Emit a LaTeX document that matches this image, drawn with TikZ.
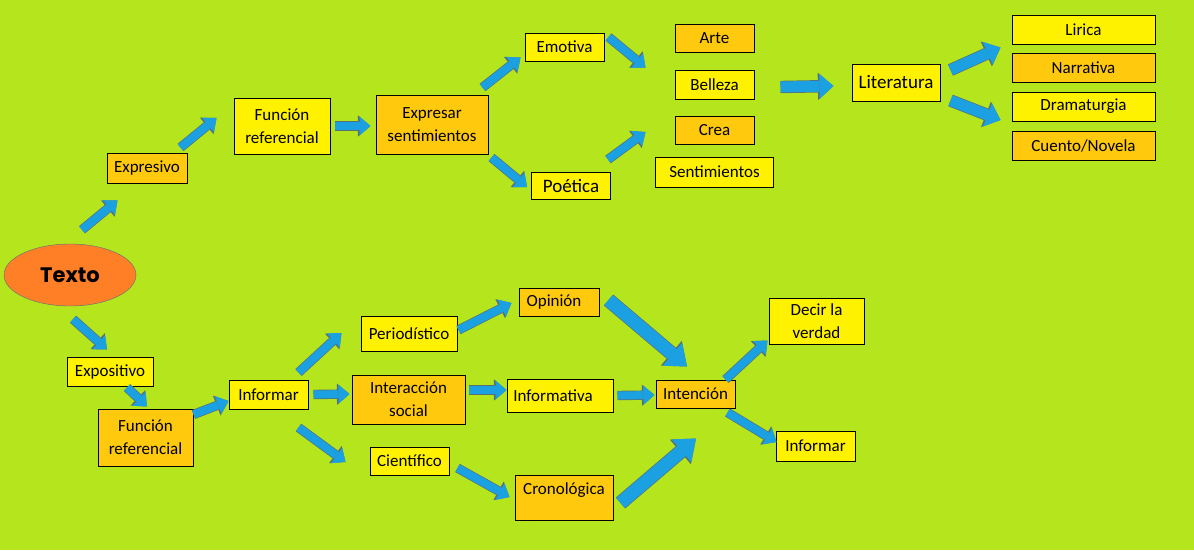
\documentclass[tikz,border=0pt]{standalone}
\usepackage{fontspec}
\setmainfont{Carlito}
\newfontfamily\titulofont{Poppins}
\usetikzlibrary{positioning,arrows.meta,shapes.geometric}
\definecolor{fondo}{HTML}{B5E61D}
\definecolor{amarillo}{HTML}{FFF200}
\definecolor{dorado}{HTML}{FFC90E}
\definecolor{naranja}{HTML}{FF7F27}
\definecolor{azul}{HTML}{1BA1E2}
\definecolor{borde}{HTML}{56707A}

\begin{document}
\begin{tikzpicture}[
x=1pt, y=-1pt,
font=\fontsize{17}{23}\selectfont,
caja/.style={
    draw,
    line width=1pt,
    align=center,
    inner sep=2pt
},
amarilla/.style={
    caja,
    fill=amarillo
},
dorada/.style={
    caja,
    fill=dorado
},
pequena/.style={
    minimum width=79pt,
    minimum height=28pt
},
flecha/.style={
    draw=azul,
    line width=8pt,
    -{Triangle[length=11pt, width=19pt, line width=0pt]},
    preaction={
        draw=borde,
        line width=9.4pt,
        -{Triangle[length=12.6pt, width=21.4pt, line width=0pt]}
    }
},
flechamedia/.style={
    draw=azul,
    line width=11pt,
    -{Triangle[length=14pt, width=25pt, line width=0pt]},
    preaction={
        draw=borde,
        line width=12.4pt,
        -{Triangle[length=15.6pt, width=27.4pt, line width=0pt]}
    }
},
flechagrande/.style={
    draw=azul,
    line width=13pt,
    -{Triangle[length=19pt, width=30pt, line width=0pt]},
    preaction={
        draw=borde,
        line width=14.4pt,
        -{Triangle[length=20.6pt, width=32.4pt, line width=0pt]}
    }
}
]

% Fondo
\fill[fondo] (0,0) rectangle (1194,550);
\useasboundingbox (0,0) rectangle (1194,550);

% Nodo central
\node[
    ellipse,
    draw=borde,
    fill=naranja,
    minimum width=132pt,
    minimum height=62pt,
    font=\titulofont\bfseries\fontsize{21}{24}\selectfont
] (texto) at (70,275) {Texto};

% Rama expresiva
\node[dorada, minimum width=80pt, minimum height=30pt] (expresivo) at (147,168) {Expresivo};

\node[amarilla, minimum width=96pt, minimum height=56pt] (referencial) at (282,126) {Función\\referencial};

\node[dorada, minimum width=112pt, minimum height=59pt] (expresar) at (432,124.5) {Expresar\\sentimientos};

\node[amarilla, pequena] (emotiva) at (564.5,47) {Emotiva};

\node[amarilla, pequena, minimum height=27pt, font=\fontsize{19}{23}\selectfont] (poetica) at (571,185.5) {Poética};

\node[dorada, pequena] (arte) at (714.5,38) {Arte};

\node[amarilla, pequena, minimum height=29pt, below=17pt of arte] (belleza) {Belleza};

\node[dorada, pequena, below=16pt of belleza] (crea) {Crea};

\node[amarilla, minimum width=118pt, minimum height=30pt, below=12pt of crea] (sentimientos) {Sentimientos};

\node[amarilla, minimum width=88pt, minimum height=37pt, font=\fontsize{19}{23}\selectfont] (literatura) at (896,82.5) {Literatura};

\node[amarilla, minimum width=143pt, minimum height=29pt] (lirica) at (1083.5,29.5) {Lirica};

\node[dorada, minimum width=143pt, minimum height=29pt, below=8pt of lirica] (narrativa) {Narrativa};

\node[amarilla, minimum width=143pt, minimum height=29pt, below=9pt of narrativa] (dramaturgia) {Dramaturgia};

\node[dorada, minimum width=143pt, minimum height=29pt, below=9pt of dramaturgia] (cuento) {Cuento/Novela};

% Flechas de la rama expresiva
\draw[flecha]
([shift={(12,-14)}]texto.north) -- ([shift={(11,17)}]expresivo.south west);

\draw[flecha]
([shift={(-7,-5)}]expresivo.north east) -- ([shift={(-17,-8)}]referencial.west);

\draw[flecha]
([shift={(4,0)}]referencial.east) -- ([shift={(-5,1.5)}]expresar.west);

\draw[flecha]
([shift={(-6,-7)}]expresar.north east) -- ([shift={(-4,-4)}]emotiva.south west);

\draw[flecha]
([shift={(3,3)}]expresar.south east) -- ([shift={(-4,1.5)}]poetica.west);

\draw[flecha]
([shift={(4,-10)}]emotiva.east) -- ([shift={(-29,-2)}]belleza.north west);

\draw[flecha]
([shift={(-3,-12)}]poetica.north east) -- ([shift={(-29,2)}]crea.west);

\draw[flechamedia]
([shift={(26,2.5)}]belleza.east) -- ([shift={(-18,3.5)}]literatura.west);

\draw[flechamedia]
([shift={(10,-12.5)}]literatura.east) -- ([shift={(-11,3)}]lirica.south west);

\draw[flechamedia]
([shift={(10,-1)}]literatura.south east) -- ([shift={(-11,13.5)}]dramaturgia.west);

% Rama expositiva
\node[amarilla, minimum width=86pt, minimum height=29pt] (expositivo) at (110,371.5) {Expositivo};

\node[dorada, minimum width=95pt, minimum height=57pt] (referencial2) at (145.5,437.5) {Función\\referencial};

\node[amarilla, pequena, minimum height=29pt] (informar) at (268.5,394.5) {Informar};

\node[amarilla, minimum width=96pt, minimum height=35pt] (periodistico) at (409,333.5) {Periodístico};

\node[dorada, minimum width=113pt, minimum height=49pt] (interaccion) at (408.5,399.5) {Interacción\\social};

\node[amarilla, pequena] (cientifico) at (409.5,461) {Científico};

\node[dorada, minimum width=80pt, minimum height=28pt] (opinion) at (559,302) {Opinión\hspace{10pt}};

\node[amarilla, minimum width=106pt, minimum height=33pt] (informativa) at (560,395.5) {Informativa\hspace{14pt}};

\node[dorada, minimum width=98pt, minimum height=45pt] (cronologica) at (564,497.5) {Cronológica\\[-6pt]};

\node[dorada, pequena] (intencion) at (695.5,394) {Intención};

\node[amarilla, minimum width=95pt, minimum height=46pt] (verdad) at (816.5,321) {Decir la\\verdad};

\node[amarilla, pequena, minimum height=30pt] (informar2) at (815.5,446) {Informar};

% Flechas de la rama expositiva
\draw[flecha]
([shift={(3,13)}]texto.south) -- ([shift={(-3,-7)}]expositivo.north);

\draw[flecha]
([shift={(17,1)}]expositivo.south) -- ([shift={(1.5,-2)}]referencial2.north);

\draw[flecha]
([shift={(0,6)}]referencial2.north east) -- ([shift={(0,6.5)}]informar.west);

\draw[flecha]
([shift={(-10,-7)}]informar.north east) -- ([shift={(-19,-0.5)}]periodistico.west);

\draw[flecha]
([shift={(5,0)}]informar.east) -- ([shift={(-2,-5.5)}]interaccion.west);

\draw[flecha]
([shift={(-10,18)}]informar.south east) -- ([shift={(-24,1)}]cientifico.west);

\draw[flecha]
([shift={(1,-3.5)}]periodistico.east) -- ([shift={(-7,1)}]opinion.west);

\draw[flecha]
([shift={(3,-9.5)}]interaccion.east) -- ([shift={(0,-5.5)}]informativa.west);

\draw[flecha]
([shift={(8,7)}]cientifico.east) -- ([shift={(-5,-0.5)}]cronologica.west);

\draw[flechagrande]
([shift={(9,-2)}]opinion.east) -- ([shift={(-8.5,-13)}]intencion.north);

\draw[flecha]
([shift={(4,0)}]informativa.east) -- ([shift={(-1,1)}]intencion.west);

\draw[flechagrande]
([shift={(7,5.5)}]cronologica.east) -- ([shift={(0.5,30)}]intencion.south);

\draw[flecha]
([shift={(-10,0)}]intencion.north east) -- ([shift={(-1,-4)}]verdad.south west);

\draw[flecha]
([shift={(-8,4)}]intencion.south east) -- ([shift={(1,-4)}]informar2.west);

\end{tikzpicture}
\end{document}
